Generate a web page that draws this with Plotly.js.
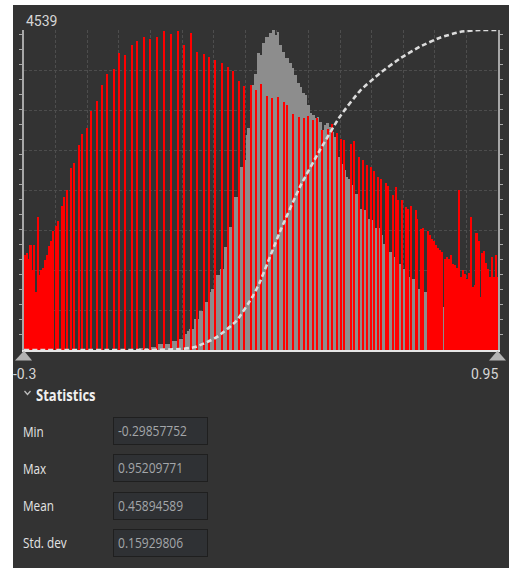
<!DOCTYPE html>
<html><head><meta charset="utf-8">
<script src="https://cdn.plot.ly/plotly-3.0.1.min.js"></script>
<style>
html,body{margin:0;padding:0;background:#ffffff;width:509px;height:568px;overflow:hidden;}
#panel{position:absolute;left:13px;top:5px;width:496px;height:563px;background:#333333;}
#chart{position:absolute;left:0;top:0;width:509px;height:568px;}
#chart .barlayer path{shape-rendering:crispEdges;}
.t{position:absolute;font-family:'Open Sans',sans-serif;white-space:nowrap;transform-origin:0 50%;transform:scaleX(0.84);}
.lbl{color:#e4e4e4;font-size:14px;line-height:16px;left:23px;}
.hdr{color:#f0f0f0;font-size:15.5px;line-height:18px;font-weight:bold;left:36px;top:386px;}
.chev{position:absolute;left:23px;top:389px;}
.box{position:absolute;left:113px;width:95px;height:28px;box-sizing:border-box;border:1px solid #1f1f1f;background:#2f3134;}
.val{position:absolute;left:4px;top:5px;color:#a3a6a9;font-size:14px;line-height:16px;font-family:'Open Sans',sans-serif;transform-origin:0 50%;transform:scaleX(0.86);white-space:nowrap;}
</style></head>
<body>
<div id="panel"></div>
<div id="chart"></div>
<svg class="chev" width="9" height="8"><polyline points="1.5,2 4.5,5.5 7.5,2" fill="none" stroke="#bdbdbd" stroke-width="1.3"/></svg>
<div class="t hdr">Statistics</div>
<div class="t lbl" style="top:424px">Min</div>
<div class="t lbl" style="top:461px">Max</div>
<div class="t lbl" style="top:498px">Mean</div>
<div class="t lbl" style="top:535px">Std. dev</div>
<div class="box" style="top:417px"><span class="val" id="vMin"></span></div>
<div class="box" style="top:454px"><span class="val" id="vMax"></span></div>
<div class="box" style="top:492px"><span class="val" id="vMean"></span></div>
<div class="box" style="top:529px"><span class="val" id="vStd"></span></div>
<script>
// ---- data ----
var axisMin = -0.3, axisMax = 0.95, maxCount = 4539;
var tickLabels = ['-0.3', '0.95'];

// red histogram (band values -> pixel counts)
var redValue = [
 -0.2976,-0.2926,-0.2879,-0.2829,-0.2781,-0.2731,-0.2684,-0.2633,-0.2586,-0.2536,-0.2488,-0.2438,-0.2391,-0.2341,-0.2293,-0.2243,
 -0.2164,-0.2111,-0.1998,-0.1953,-0.1866,-0.1761,-0.1674,-0.155,-0.1471,-0.1339,-0.1233,-0.1083,-0.0935,-0.0803,-0.0627,-0.0495,-0.0344,-0.0152,-0.0028,
 0.0172,0.0323,0.0515,0.0684,0.0877,0.1069,0.1219,0.1404,0.1554,0.1739,0.1887,0.2037,0.2229,0.2388,0.2519,0.2664,0.281,0.2978,0.3126,
 0.325,0.34,0.354,0.3706,0.3849,0.3928,0.4094,0.4244,0.4384,0.4497,0.4629,0.4719,0.4859,0.5017,0.5122,0.5246,0.536,0.5447,0.5615,0.5702,0.5834,0.5948,0.6037,0.6143,0.6238,0.6343,
 0.6422,0.6538,0.6604,0.6731,0.6818,0.6871,0.696,0.7082,0.7134,0.7206,0.733,0.7372,0.7469,0.753,
 0.7654,0.7699,0.7752,0.7804,0.7857,0.791,0.7962,0.8023,0.8102,0.8155,0.8208,0.826,0.8313,0.8366,0.8419,0.8471,0.8524,0.8577,0.863,0.8682,0.8735,0.8788,0.8835,0.8886,0.8936,0.8986,0.9033,0.9078,0.9131,0.9183,0.9236,0.9289,0.9342,0.9394,0.9447,0.9487
];
var redCount = [
 1343,1376,1296,1485,1129,1485,821,1887,1058,1129,1168,1272,1352,1475,1541,1688,
 1755,1826,2039,2167,2266,2583,2659,2905,3062,3151,3393,3530,3758,3910,3990,4212,4180,4326,4388,
 4435,4416,4435,4530,4478,4530,4326,4492,4231,4194,4152,4113,4075,4018,3961,3815,3739,3758,3682,
 3772,3606,3569,3587,3512,3474,3341,3303,3285,3322,3261,3285,3114,3133,3208,3076,3000,2981,2924,2962,2735,2697,2621,2597,2546,2451,
 2432,2375,2333,2205,2318,2128,2128,2029,2000,2039,1982,1864,1712,1736,
 1693,1637,1580,1542,1485,1446,1414,1390,1295,1314,1295,1343,1219,1210,1162,2266,1030,1129,1077,1001,1096,1887,892,926,1655,1542,750,1371,1399,1239,1144,1035,1318,1035,1352,1035
];

// gray histogram (second distribution)
var grayValue = [
 -0.0073,0.0146,0.041,0.0605,0.0763,0.0956,0.1122,0.1246,0.1333,0.1422,
 0.1554,0.1686,0.1818,0.1905,0.1992,0.2124,0.2214,0.2345,0.2459,0.2591,
 0.273,0.282,0.2881,0.2933,0.3047,0.311,0.3189,0.3242,0.3311,0.34,
 0.3495,0.3574,0.3627,0.3698,0.3759,0.3838,0.3928,0.4015,0.4075,0.4147,
 0.4226,0.4297,0.4365,0.4437,0.4508,0.4561,0.4629,0.4692,0.4753,0.4814,
 0.4877,0.4946,0.5009,0.5077,0.513,0.5193,0.5254,0.5315,0.5386,0.5457,
 0.5518,0.5597,0.5684,0.5763,0.5826,0.5906,0.5993,0.608,0.6169,0.6256,
 0.6343,0.6414,0.6494,0.6652,0.6757,0.6897,0.7003,0.7145,0.7266,0.7398,
 0.7583,0.7725,0.8076,0.8761,0.9474
];
var grayCount = [
 0,26,40,88,88,121,159,230,263,291,
 443,547,680,822,869,1058,1153,1461,1745,2171,
 2597,2692,3047,3142,3758,3909,4208,4184,4350,4444,
 4492,4539,4468,4515,4326,4231,4137,4066,3995,3900,
 3781,3734,3639,3616,3474,3355,3332,3284,3308,3237,
 3118,3189,3213,3166,3095,3024,2834,2740,2645,2550,
 2455,2432,2337,2219,2124,2006,1982,1864,1840,1731,
 1731,1636,1508,1390,1319,1224,1153,1035,1011,869,
 822,784,608,450,350
];

// cumulative curve (fraction)
var cdfValue = [-0.3,0.0323,0.1114,0.1509,0.2082,0.2609,0.3047,0.3224,0.3751,0.4278,0.4806,0.5333,0.5861,0.6388,0.6916,0.7443,0.797,0.8498,0.9025,0.95];
var cdfFrac  = [0,0,0.003,0.009,0.04,0.092,0.171,0.213,0.37,0.51,0.625,0.73,0.81,0.865,0.911,0.948,0.976,0.994,1.0,1.0];

// statistics
var statNames = ['Min','Max','Mean','Std. dev'];
var statValues = ['-0.29857752','0.95209771','0.45894589','0.15929806'];

document.getElementById('vMin').textContent = statValues[0];
document.getElementById('vMax').textContent = statValues[1];
document.getElementById('vMean').textContent = statValues[2];
document.getElementById('vStd').textContent = statValues[3];

// bar widths for the gray distribution from neighbour spacing
var grayW = grayValue.map(function(v,i){
  var prev = i>0 ? grayValue[i-1] : v - (grayValue[1]-grayValue[0]);
  var next = i<grayValue.length-1 ? grayValue[i+1] : axisMax;
  return (next-prev)/2 + 0.0006;
});

var span = axisMax-axisMin;
var traces = [
 {type:'bar', x:grayValue, y:grayCount, width:grayW, marker:{color:'#8d8d8d', line:{width:0}}, hoverinfo:'skip'},
 {type:'bar', x:redValue, y:redCount, width:0.006, marker:{color:'#ff0000', line:{width:0}}, hoverinfo:'skip'},
 {type:'scatter', mode:'lines', x:cdfValue, y:cdfFrac, yaxis:'y2', line:{color:'#dcdcdc', width:2.6, dash:'5px,3px', shape:'spline', smoothing:0.5}, hoverinfo:'skip'}
];

var f = {family:"'Liberation Sans Narrow', Roboto, sans-serif", size:14, color:'#d6d6d6'};
var layout = {
 width:509, height:568,
 margin:{l:24, r:11, t:30, b:218, pad:0},
 paper_bgcolor:'rgba(0,0,0,0)', plot_bgcolor:'#333333',
 showlegend:false, barmode:'overlay',
 xaxis:{range:[axisMin,axisMax], tick0:axisMin, dtick:span/15, showgrid:true, gridcolor:'#4d4d4d', griddash:'3px,2px', gridwidth:1,
        showticklabels:false, ticks:'', zeroline:false, showline:true, linecolor:'#e6e6e6', linewidth:1.5, fixedrange:true},
 yaxis:{range:[0,maxCount], tick0:0, dtick:maxCount/8, showgrid:true, gridcolor:'#4d4d4d', griddash:'3px,2px', gridwidth:1,
        showticklabels:false, ticks:'', zeroline:false, showline:true, mirror:'ticks', linecolor:'#a8a8a8', linewidth:2, fixedrange:true,
        minor:{dtick:213, ticks:'outside', ticklen:3, tickwidth:1, tickcolor:'#a8a8a8', showgrid:false}},
 yaxis2:{range:[0,1], overlaying:'y', visible:false, fixedrange:true},
 annotations:[
  {xref:'paper', yref:'paper', x:0, y:1, xanchor:'left', yanchor:'middle', yshift:9, xshift:0, text:String(maxCount), showarrow:false, font:f},
  {xref:'paper', yref:'paper', x:0, y:0, xanchor:'center', yanchor:'middle', yshift:-24, text:tickLabels[0], showarrow:false, font:f},
  {xref:'paper', yref:'paper', x:1, y:0, xanchor:'right', yanchor:'middle', yshift:-24, xshift:2, text:tickLabels[1], showarrow:false, font:f}
 ],
 shapes:[
  {type:'path', xref:'paper', yref:'paper', path:'M 0 -0.002 L -0.019 -0.0325 L 0.017 -0.0325 Z', fillcolor:'#b3b3b3', line:{width:0}, layer:'above'},
  {type:'path', xref:'paper', yref:'paper', path:'M 0.9989 -0.002 L 0.981 -0.0325 L 1.0169 -0.0325 Z', fillcolor:'#b3b3b3', line:{width:0}, layer:'above'}
 ]
};
Plotly.newPlot('chart', traces, layout, {displayModeBar:false, staticPlot:true});
</script>
</body></html>
